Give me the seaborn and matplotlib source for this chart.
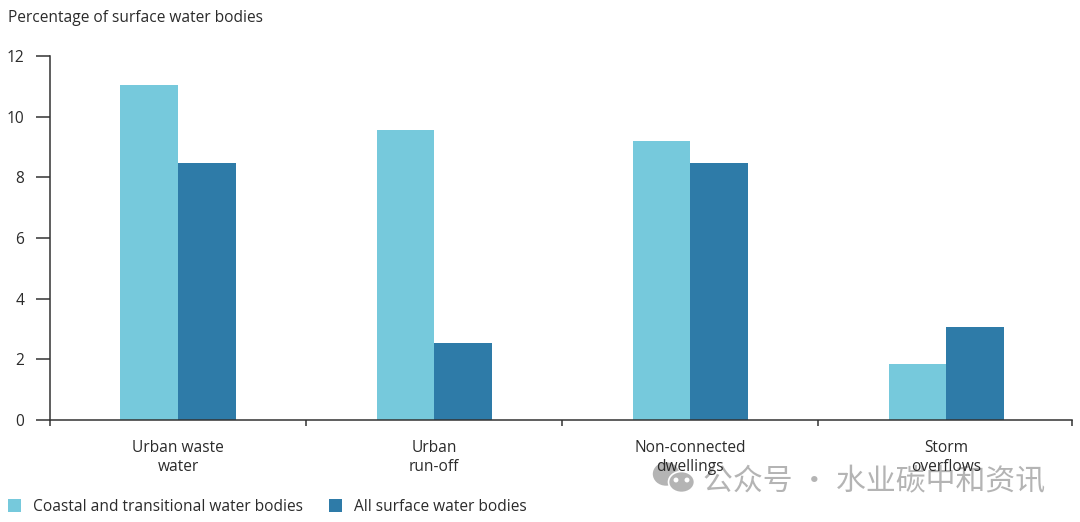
import matplotlib
matplotlib.use('Agg')
import matplotlib.pyplot as plt
from matplotlib.patches import Ellipse
import pandas as pd
import seaborn as sns

categories = ['Urban waste\nwater', 'Urban\nrun-off', 'Non-connected\ndwellings', 'Storm\noverflows']
coastal = [11.05, 9.57, 9.2, 1.85]
all_surface = [8.48, 2.55, 8.48, 3.08]
series_names = ['Coastal and transitional water bodies', 'All surface water bodies']
y_ticks = [0, 2, 4, 6, 8, 10, 12]

sns.set_theme(style='white')
plt.rcParams['font.family'] = ['Open Sans', 'DejaVu Sans']
plt.rcParams['text.color'] = '#2b2b2b'

W, H = 1080, 522
fs = 11.2
fig = plt.figure(figsize=(W / 100, H / 100), dpi=100)
ax = fig.add_axes([50 / W, 1 - 420 / H, (1072 - 50) / W, (420 - 56) / H])
ax.patch.set_visible(False)

df = pd.DataFrame({
    'category': categories * 2,
    'value': coastal + all_surface,
    'series': [series_names[0]] * 4 + [series_names[1]] * 4,
})
sns.barplot(data=df, x='category', y='value', hue='series', ax=ax, width=0.45, gap=0,
            palette=['#76C9DC', '#2E7BA8'], saturation=1, errorbar=None, linewidth=0)

# the axis stops a touch short of the last category's full width
ax.set_xlim(-0.5, 3.49)
ax.set_ylim(0, 12)
ax.set_xlabel('')
ax.set_ylabel('')
ax.set_yticks(y_ticks)
ax.set_xticks([-0.5, 0.5, 1.5, 2.5, 3.49], labels=[])
# category labels sit between the ticks
ax.set_xticks([0, 1, 2, 3], labels=categories, minor=True)
ax.tick_params(axis='x', which='major', length=4, width=1.1, color='#333333', bottom=True)
ax.tick_params(axis='x', which='minor', length=0, pad=14.5, labelsize=fs, labelcolor='#2b2b2b', bottom=False)
ax.tick_params(axis='y', length=10, width=1.1, color='#333333', pad=8.5, labelsize=fs,
               labelcolor='#2b2b2b', left=True)
for lab in ax.get_xticklabels(minor=True):
    lab.set_linespacing(1.22)

sns.despine(ax=ax)
for side in ['left', 'bottom']:
    ax.spines[side].set_color('#333333')
    ax.spines[side].set_linewidth(1.1)

fig.text(8 / W, 1 - 18.5 / H, 'Percentage of surface water bodies', fontsize=fs, va='center', ha='left')

sns.move_legend(ax, 'center left', bbox_to_anchor=(8 / W, 1 - 507 / H), bbox_transform=fig.transFigure,
                ncol=2, title=None, frameon=False, fontsize=fs, handlelength=0.85, handleheight=0.85,
                handletextpad=0.78, columnspacing=1.65, borderpad=0, borderaxespad=0)

# watermark goes behind the chart so the category labels stay readable
wm = '#b4b4b4'
fig.text(703 / W, 1 - 482 / H, '公众号 · 水业碳中和资讯', fontsize=21.5, color=wm, va='center', ha='left',
         family=['Noto Sans CJK SC', 'DejaVu Sans'], zorder=-2)
overlay = fig.add_axes([0, 0, 1, 1], facecolor='none', zorder=-1)
overlay.set_xlim(0, W)
overlay.set_ylim(H, 0)
overlay.axis('off')
overlay.add_patch(Ellipse((666, 474), 25, 22, color=wm))
overlay.add_patch(Ellipse((681.5, 482), 26, 21, fc=wm, ec='white', lw=1.2))
for ex in (676, 687):
    overlay.add_patch(Ellipse((ex, 480), 3.5, 3.5, color='white'))

fig.savefig('out.png', dpi=100)
plt.close(fig)
